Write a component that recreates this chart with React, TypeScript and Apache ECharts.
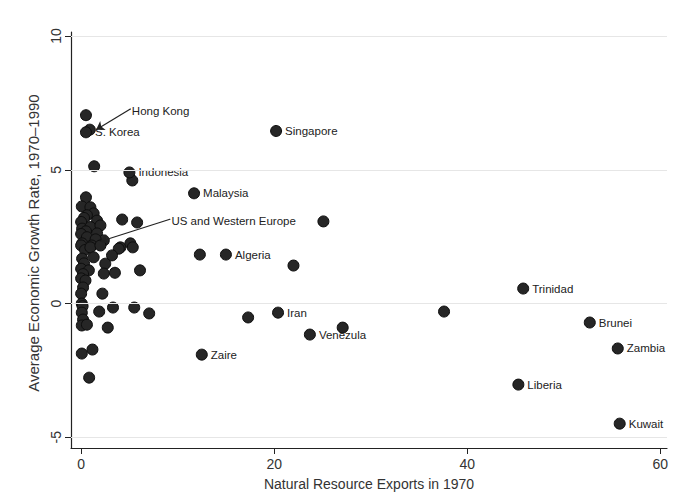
import React, { useEffect, useRef } from "react";
import * as echarts from "echarts";

// Unlabelled countries: [resource exports 1970, growth 1970-1990]
const clusterPoints: number[][] = [
  [0.5, 7.04], [0.9, 6.5], [1.35, 5.13], [5.3, 4.6],
  [0.5, 3.97], [0.07, 3.63], [0.96, 3.6], [1.3, 3.37], [0.6, 3.3], [0.3, 3.2],
  [0.0, 3.05], [1.65, 3.1], [4.25, 3.14], [5.8, 3.03], [0.1, 2.8], [0.96, 2.86],
  [2.0, 2.92], [0.5, 2.7], [0.0, 2.6], [0.6, 2.48], [1.65, 2.62], [2.35, 2.36],
  [1.5, 2.4], [0.1, 2.25], [1.1, 2.17], [4.07, 2.1], [5.1, 2.25], [5.35, 2.1],
  [0.0, 2.17], [0.4, 2.0], [0.96, 2.1], [2.0, 2.17], [3.9, 2.05], [0.1, 1.68],
  [1.3, 1.73], [3.2, 1.8], [2.5, 1.49], [0.3, 1.5], [0.0, 1.3], [0.8, 1.24],
  [2.35, 1.12], [3.5, 1.15], [6.1, 1.24], [0.2, 1.1], [0.0, 0.94], [0.45, 0.86],
  [0.2, 0.6], [0.0, 0.37], [2.2, 0.37], [0.07, 0.0], [0.15, -0.1], [0.07, -0.34],
  [1.87, -0.3], [3.3, -0.15], [5.5, -0.15], [7.05, -0.37], [0.2, -0.6],
  [0.07, -0.82], [0.6, -0.79], [2.76, -0.9], [0.07, -1.87], [1.17, -1.72],
  [0.83, -2.77], [12.3, 1.83], [22.0, 1.42], [25.1, 3.07], [17.3, -0.52],
  [27.1, -0.9], [37.6, -0.3],
];

const labelledNames: string[] = [
  "S. Korea", "Indonesia", "Singapore", "Malaysia", "Algeria", "Iran", "Venezula",
  "Zaire", "Trinidad", "Brunei", "Zambia", "Liberia", "Kuwait",
];
const labelledX: number[] = [0.5, 5.0, 20.2, 11.7, 15.0, 20.4, 23.7, 12.5, 45.8, 52.7, 55.6, 45.3, 55.8];
const labelledY: number[] = [6.4, 4.9, 6.45, 4.12, 1.83, -0.34, -1.16, -1.91, 0.56, -0.71, -1.68, -3.03, -4.49];

const annotationNames: string[] = ["Hong Kong", "US and Western Europe"];
const annotationFrom: number[][] = [[5.1, 7.27], [9.2, 3.15]];
const annotationTo: number[][] = [[1.55, 6.5], [1.97, 2.32]];

const xTicks: number[] = [0, 20, 40, 60];
const yTicks: number[] = [-5, 0, 5, 10];

const FONT = "'Liberation Sans', Arial, Helvetica, sans-serif";

export default function App() {
  const ref = useRef<HTMLDivElement>(null);

  useEffect(() => {
    if (!ref.current) return;
    const chart = echarts.init(ref.current, null, { renderer: "svg" });

    const dotStyle = { color: "#262626", borderColor: "#0d0d0d", borderWidth: 1, opacity: 1 };
    const labelStyle = {
      show: true,
      position: "right",
      formatter: "{b}",
      fontSize: 11.5,
      color: "#222",
      fontFamily: FONT,
    };

    chart.setOption({
      animation: false,
      backgroundColor: "#ffffff",
      grid: { left: 71, right: 9, top: 32, bottom: 49, containLabel: false },
      xAxis: {
        type: "value",
        min: -1.05,
        max: 60.7,
        axisLine: { show: true, onZero: false, lineStyle: { color: "#222", width: 1.2 } },
        axisTick: { show: true, inside: false, length: 6, customValues: xTicks, lineStyle: { color: "#222" } },
        axisLabel: { customValues: xTicks, fontSize: 14, color: "#333", margin: 9, fontFamily: FONT },
        splitLine: { show: false },
      },
      yAxis: {
        type: "value",
        min: -5.4,
        max: 10.15,
        axisLine: { show: true, onZero: false, lineStyle: { color: "#222", width: 1.2 } },
        axisTick: { show: true, inside: false, length: 6, customValues: yTicks, lineStyle: { color: "#222" } },
        axisLabel: { customValues: yTicks, rotate: 90, fontSize: 14, color: "#333", margin: 8, fontFamily: FONT },
        splitLine: { show: false },
      },
      graphic: [
        {
          type: "text",
          x: 369,
          y: 484,
          style: {
            text: "Natural Resource Exports in 1970",
            fontSize: 14,
            fontFamily: FONT,
            fill: "#333",
            align: "center",
            verticalAlign: "middle",
          },
        },
        {
          type: "text",
          x: 33,
          y: 243,
          rotation: Math.PI / 2,
          style: {
            text: "Average Economic Growth Rate, 1970\u20131990",
            fontSize: 15,
            fontFamily: FONT,
            fill: "#333",
            align: "center",
            verticalAlign: "middle",
          },
        },
      ],
      series: [
        {
          type: "scatter",
          symbolSize: 0,
          data: [],
          markLine: {
            silent: true,
            symbol: "none",
            label: { show: false },
            lineStyle: { color: "#e6e6e6", type: "solid", width: 1 },
            data: yTicks.map((v) => ({ yAxis: v })),
          },
        },
        {
          type: "scatter",
          symbol: "circle",
          symbolSize: 11,
          itemStyle: dotStyle,
          data: clusterPoints,
        },
        {
          type: "scatter",
          symbol: "circle",
          symbolSize: 11,
          itemStyle: dotStyle,
          label: { ...labelStyle, distance: 3 },
          data: labelledNames.map((n, i) => ({ name: n, value: [labelledX[i], labelledY[i]] })),
        },
        {
          type: "scatter",
          symbolSize: 1,
          itemStyle: { color: "#222", opacity: 1 },
          label: { ...labelStyle, distance: 1, offset: [0, 2] },
          data: annotationNames.map((n, i) => ({ name: n, value: annotationFrom[i] })),
          markLine: {
            silent: true,
            symbol: ["none", "arrow"],
            symbolSize: 8,
            label: { show: false },
            lineStyle: { color: "#222", type: "solid", width: 1.2, opacity: 1 },
            data: annotationNames.map((_, i) => [
              { coord: annotationFrom[i] },
              { coord: annotationTo[i] },
            ]),
          },
        },
      ],
    });

    return () => chart.dispose();
  }, []);

  return (
    <div
      ref={ref}
      style={{ position: "fixed", left: 0, top: 0, width: 676, height: 497 }}
    />
  );
}
